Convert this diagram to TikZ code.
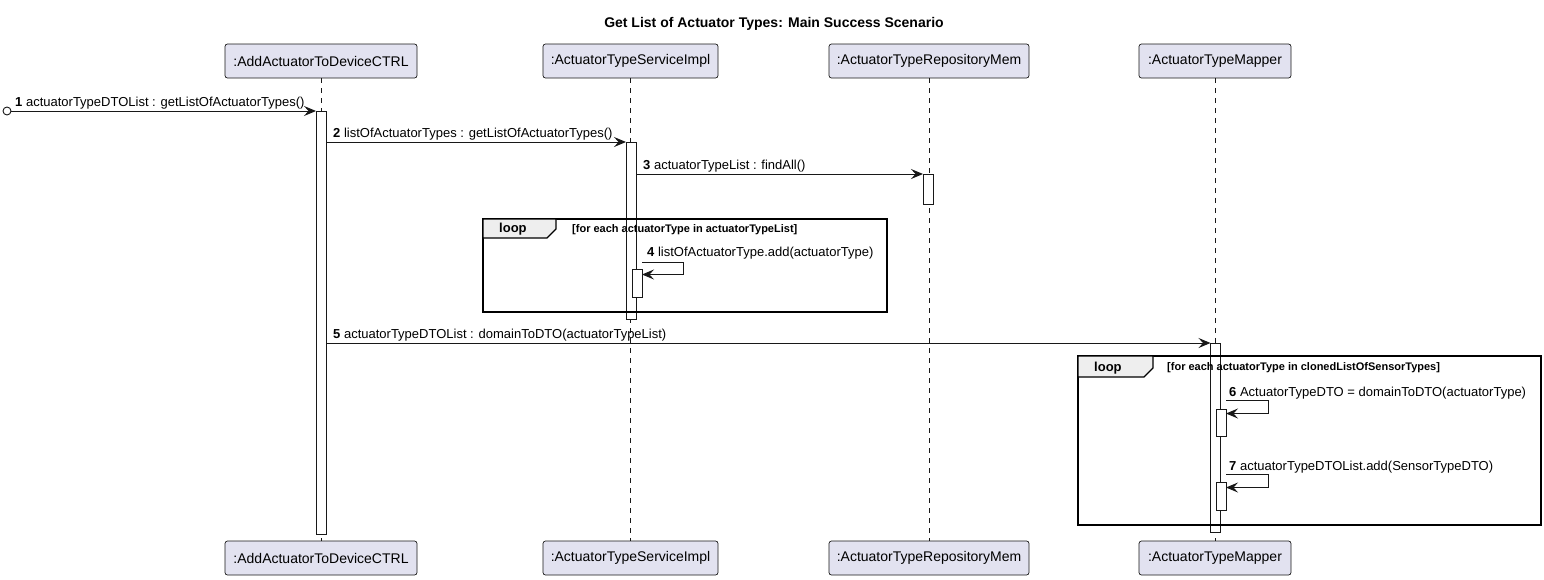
\documentclass[tikz,border=0pt]{standalone}
\usepackage{fontspec}
\setmainfont{Liberation Sans}
\usetikzlibrary{arrows.meta}
\definecolor{partfill}{HTML}{E2E2F0}
\definecolor{ink}{HTML}{181818}
\definecolor{tabfill}{HTML}{EEEEEE}
\tikzset{
  part/.style={draw=ink, fill=partfill, rounded corners=2.5pt, line width=0.7pt,
    minimum height=34pt, inner xsep=0pt, inner ysep=0pt, font=\fontsize{14}{16}\selectfont},
  lifeline/.style={draw=ink, line width=0.5pt, dash pattern=on 5pt off 5pt},
  actbar/.style={draw=ink, fill=white, line width=0.8pt, minimum width=10pt,
    inner sep=0pt, outer sep=0pt, anchor=north},
  msg/.style={draw=ink, line width=1pt, -{Stealth[length=12pt,width=10pt,inset=4.5pt]}},
  lbl/.style={anchor=base west, inner sep=0pt, font=\fontsize{13}{15}\selectfont},
  frame/.style={draw=black, line width=1.4pt, inner sep=0pt, outer sep=0pt, anchor=north west},
  tab/.style={draw=black, line width=1.2pt, fill=tabfill},
  kw/.style={anchor=west, inner sep=0pt, font=\fontsize{13}{15}\selectfont\bfseries},
  cond/.style={anchor=west, inner sep=0pt, font=\fontsize{11}{13}\selectfont\bfseries},
}
\begin{document}
\begin{tikzpicture}[x=1pt,y=-1pt]
\useasboundingbox (0,0) rectangle (1544,579);
% title
\node[font=\fontsize{14}{16}\selectfont\bfseries, inner sep=0pt] (title) at (774,24) {Get List of Actuator Types: Main Success Scenario};
% participants
\node[part, minimum width=192pt] (p1t) at (321,61) {:AddActuatorToDeviceCTRL};
\node[part, minimum width=175pt] (p2t) at (630.5,61) {:ActuatorTypeServiceImpl};
\node[part, minimum width=200pt] (p3t) at (929,61) {:ActuatorTypeRepositoryMem};
\node[part, minimum width=152pt] (p4t) at (1215,61) {:ActuatorTypeMapper};
\node[part, minimum width=192pt] (p1b) at (321,558) {:AddActuatorToDeviceCTRL};
\node[part, minimum width=175pt] (p2b) at (630.5,558) {:ActuatorTypeServiceImpl};
\node[part, minimum width=200pt] (p3b) at (929,558) {:ActuatorTypeRepositoryMem};
\node[part, minimum width=152pt] (p4b) at (1215,558) {:ActuatorTypeMapper};
% lifelines
\draw[lifeline] (p1t.south) -- (p1b.north);
\draw[lifeline] (p2t.south) -- (p2b.north);
\draw[lifeline] (p3t.south) -- (p3b.north);
\draw[lifeline] (p4t.south) -- (p4b.north);
% activation bars
\node[actbar, minimum height=423pt] (b1) at (321,111) {};
\node[actbar, minimum height=177pt] (b2) at (631,142) {};
\node[actbar, minimum height=30pt] (b3) at (928,174) {};
\node[actbar, minimum height=28pt] (b4) at (637,269) {};
\node[actbar, minimum height=189pt] (b5) at (1215.5,343) {};
\node[actbar, minimum height=27pt] (b6) at (1221,409) {};
\node[actbar, minimum height=28pt] (b7) at (1221,482) {};
% loop frames
\node[frame, minimum width=404pt, minimum height=93pt] (loop1) at (483,219) {};
\draw[tab] (loop1.north west) -- (556,219) -- (556,229) -- (547,238) -- (483,238) -- cycle;
\node[kw] (loop1kw) at (499,229.5) {loop};
\node[cond] (loop1c) at (572,229.5) {[for each actuatorType in actuatorTypeList]};
\node[frame, minimum width=463pt, minimum height=169pt] (loop2) at (1078,356) {};
\draw[tab] (loop2.north west) -- (1153,356) -- (1153,368) -- (1144,377) -- (1078,377) -- cycle;
\node[kw] (loop2kw) at (1094,368) {loop};
\node[cond] (loop2c) at (1167,368) {[for each actuatorType in clonedListOfSensorTypes]};
% message 1
\node[circle, draw=ink, fill=white, line width=0.9pt, minimum size=8pt, inner sep=0pt] (src) at (7,111) {};
\draw[msg] (src.east) -- (b1.north west);
\node[lbl] (l1) at (15,106.5) {\textbf{1} actuatorTypeDTOList : getListOfActuatorTypes()};
% message 2
\draw[msg] (b1.east |- b2.north) -- (b2.north west);
\node[lbl] (l2) at (333,137.5) {\textbf{2} listOfActuatorTypes : getListOfActuatorTypes()};
% message 3
\draw[msg] (b2.east |- b3.north) -- (b3.north west);
\node[lbl] (l3) at (643,169.5) {\textbf{3} actuatorTypeList : findAll()};
% message 4 (self)
\draw[msg] (b4.east |- 0,262) -- (683,262) -- (683,274.5) -- (b4.east |- 0,274.5);
\node[lbl] (l4) at (647,256.5) {\textbf{4} listOfActuatorType.add(actuatorType)};
% message 5
\draw[msg] (b1.east |- b5.north) -- (b5.north west);
\node[lbl] (l5) at (333,338.5) {\textbf{5} actuatorTypeDTOList : domainToDTO(actuatorTypeList)};
% message 6 (self)
\draw[msg] (b6.east |- 0,400.5) -- (1268,400.5) -- (1268,413.5) -- (b6.east |- 0,413.5);
\node[lbl] (l6) at (1229,396.5) {\textbf{6} ActuatorTypeDTO = domainToDTO(actuatorType)};
% message 7 (self)
\draw[msg] (b7.east |- 0,474.5) -- (1268,474.5) -- (1268,487.5) -- (b7.east |- 0,487.5);
\node[lbl] (l7) at (1229,470.5) {\textbf{7} actuatorTypeDTOList.add(SensorTypeDTO)};
\end{tikzpicture}
\end{document}
